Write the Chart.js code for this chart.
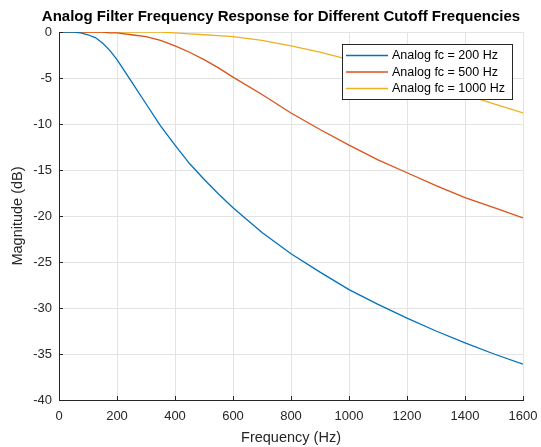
<!DOCTYPE html>
<html>
<head>
<meta charset="utf-8">
<script src="https://cdn.jsdelivr.net/npm/chart.js@4.4.1/dist/chart.umd.min.js"></script>
<style>
    html, body { margin: 0; padding: 0; background: #fff; }
    canvas { display: block; }
</style>
</head>
<body>
<canvas id="chart" width="541" height="447"></canvas>
<script>
// ---------- DATOS ----------
const freqHz = [0, 25, 50, 75, 100, 125, 150, 175, 200, 250, 300, 350, 400, 450, 500, 550, 600,
                700, 800, 900, 1000, 1100, 1200, 1300, 1400, 1500, 1600];

// magnitud (dB) para cada frecuencia de corte
const mag200 = [0, 0, 0, -0.1, -0.3, -0.6, -1.2, -2.0, -3.0, -5.4, -7.8, -10.2, -12.3, -14.3, -16.0, -17.6, -19.1,
                -21.8, -24.1, -26.1, -28.0, -29.6, -31.1, -32.5, -33.8, -35.0, -36.1];
const mag500 = [0, 0, 0, 0, 0, 0, 0, -0.1, -0.1, -0.3, -0.5, -0.9, -1.5, -2.2, -3.0, -3.9, -4.9,
                -6.8, -8.8, -10.6, -12.3, -13.9, -15.3, -16.7, -18.0, -19.1, -20.2];
const mag1000 = [0, 0, 0, 0, 0, 0, 0, 0, 0, 0, 0, 0, -0.1, -0.2, -0.3, -0.4, -0.5,
                 -0.9, -1.5, -2.2, -3.0, -3.9, -4.9, -5.9, -6.8, -7.8, -8.8];

const seriesLabels = ['Analog fc = 200 Hz', 'Analog fc = 500 Hz', 'Analog fc = 1000 Hz'];
const seriesColors = ['#0072BD', '#D95319', '#EDB120'];

const xTicks = [0, 200, 400, 600, 800, 1000, 1200, 1400, 1600];
const yTicks = [0, -5, -10, -15, -20, -25, -30, -35, -40];

const chartTitle = 'Analog Filter Frequency Response for Different Cutoff Frequencies';

const FONT = '"Liberation Sans", Arial, Helvetica, sans-serif';
const AXIS_COLOR = '#262626';

function toPoints(ys) {
    return freqHz.map((f, i) => ({ x: f, y: ys[i] }));
}

// ---------- TÍTULO ----------
const topTitle = {
    id: 'topTitle',
    afterDraw(chart) {
        const { ctx, chartArea: a } = chart;
        ctx.save();
        ctx.font = 'bold 15px ' + FONT;
        ctx.fillStyle = '#000';
        ctx.textAlign = 'center';
        ctx.textBaseline = 'middle';
        ctx.fillText(chartTitle, (a.left + a.right) / 2 - 10, 17);
        ctx.restore();
    }
};

// ---------- MARCAS HACIA DENTRO ----------
const innerTicks = {
    id: 'innerTicks',
    afterDraw(chart) {
        const { ctx, chartArea: a, scales } = chart;
        ctx.save();
        ctx.strokeStyle = AXIS_COLOR;
        ctx.lineWidth = 1;
        ctx.beginPath();
        xTicks.forEach(v => {
            const px = Math.round(scales.x.getPixelForValue(v)) + 0.5;
            ctx.moveTo(px, a.bottom);
            ctx.lineTo(px, a.bottom - 4);
        });
        yTicks.forEach(v => {
            const py = Math.round(scales.y.getPixelForValue(v)) + 0.5;
            ctx.moveTo(a.left, py);
            ctx.lineTo(a.left + 4, py);
        });
        ctx.stroke();
        ctx.restore();
    }
};

// ---------- LEYENDA DENTRO DEL ÁREA ----------
const boxLegend = {
    id: 'boxLegend',
    afterDraw(chart) {
        const { ctx, chartArea: a } = chart;
        const sets = chart.data.datasets;
        ctx.save();
        ctx.font = '12.5px ' + FONT;
        const textW = Math.max(...sets.map(d => ctx.measureText(d.label).width));
        const w = Math.round(4 + 42 + 4 + textW + 7);
        const h = 55;
        const right = Math.round(a.right) - 11;
        const left = right - w;
        const top = Math.round(a.top) + 12;

        ctx.fillStyle = '#fff';
        ctx.fillRect(left, top, w, h);
        ctx.strokeStyle = AXIS_COLOR;
        ctx.lineWidth = 1;
        ctx.strokeRect(left + 0.5, top + 0.5, w, h);

        sets.forEach((d, i) => {
            const y = top + 11.5 + i * 16.5;
            ctx.strokeStyle = d.borderColor;
            ctx.lineWidth = 1.3;
            ctx.beginPath();
            ctx.moveTo(left + 4, y);
            ctx.lineTo(left + 46, y);
            ctx.stroke();
            ctx.fillStyle = '#000';
            ctx.textBaseline = 'middle';
            ctx.textAlign = 'left';
            ctx.fillText(d.label, left + 50, y + 0.5);
        });
        ctx.restore();
    }
};

// ---------- GRÁFICA ----------
const ctx = document.getElementById('chart');
const chart = new Chart(ctx, {
    type: 'line',
    data: {
        datasets: [mag200, mag500, mag1000].map((ys, i) => ({
            label: seriesLabels[i],
            data: toPoints(ys),
            borderColor: seriesColors[i],
            borderWidth: 1.3,
            pointRadius: 0,
            tension: 0,
            fill: false
        }))
    },
    options: {
        responsive: false,
        devicePixelRatio: 1,
        animation: false,
        events: [],
        layout: { padding: { left: 0, right: 18, top: 32, bottom: 0 } },
        plugins: {
            legend: { display: false },
            tooltip: { enabled: false },
            title: { display: false }
        },
        scales: {
            x: {
                type: 'linear',
                min: 0,
                max: 1600,
                afterFit(scale) {
                    scale.height = 47;
                    scale.paddingLeft = 0;
                    scale.paddingRight = 0;
                },
                afterBuildTicks(scale) { scale.ticks = xTicks.map(v => ({ value: v })); },
                ticks: {
                    color: AXIS_COLOR,
                    font: { family: FONT, size: 13 },
                    padding: 9,
                    maxRotation: 0,
                    autoSkip: false,
                    callback: v => String(v)
                },
                grid: { color: '#e3e3e3', drawTicks: false },
                border: { display: true, color: AXIS_COLOR, width: 1 },
                title: {
                    display: true,
                    text: 'Frequency (Hz)',
                    color: AXIS_COLOR,
                    font: { family: FONT, size: 14.5, lineHeight: 1.2 },
                    padding: { top: 0, bottom: 0 }
                }
            },
            y: {
                type: 'linear',
                min: -40,
                max: 0,
                afterFit(scale) {
                    scale.width = 59;
                    scale.paddingTop = 0;
                    scale.paddingBottom = 0;
                },
                afterBuildTicks(scale) { scale.ticks = yTicks.map(v => ({ value: v })); },
                ticks: {
                    color: AXIS_COLOR,
                    font: { family: FONT, size: 13 },
                    padding: 7,
                    autoSkip: false,
                    callback: v => String(v)
                },
                grid: { color: '#e3e3e3', drawTicks: false },
                border: { display: true, color: AXIS_COLOR, width: 1 },
                title: {
                    display: true,
                    text: 'Magnitude (dB)',
                    color: AXIS_COLOR,
                    font: { family: FONT, size: 14.5, lineHeight: 1.2 },
                    padding: { top: 9, bottom: 0 }
                }
            }
        }
    },
    plugins: [topTitle, innerTicks, boxLegend]
});
</script>
</body>
</html>
